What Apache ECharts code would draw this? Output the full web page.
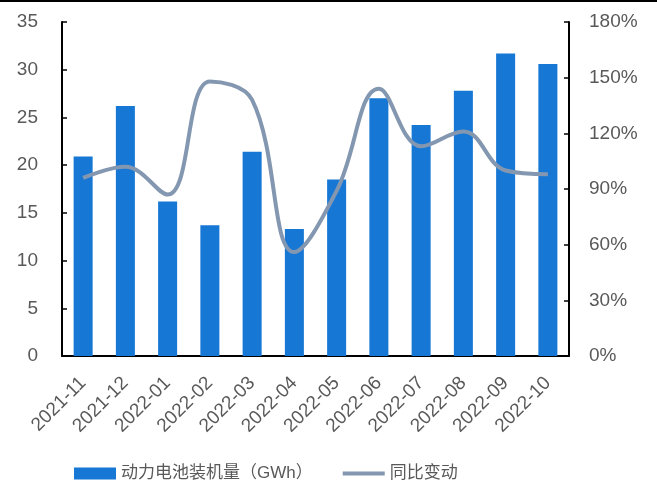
<!DOCTYPE html>
<html>
<head>
<meta charset="utf-8">
<script src="https://cdn.jsdelivr.net/npm/echarts@6/dist/echarts.min.js"></script>
<style>
  html, body { margin: 0; padding: 0; background: #fff; }
  #chart { width: 657px; height: 488px; }
</style>
</head>
<body>
<div id="chart"></div>
<script>
// 月份
const months = ["2021-11", "2021-12", "2022-01", "2022-02", "2022-03", "2022-04",
  "2022-05", "2022-06", "2022-07", "2022-08", "2022-09", "2022-10"];
// 动力电池装机量（GWh）
const installed = [20.9, 26.2, 16.2, 13.7, 21.4, 13.3, 18.5, 27.0, 24.2, 27.8, 31.7, 30.6];
// 同比变动（%）
const yoyChange = [96, 102, 87, 148, 138, 56, 89, 144, 113, 121, 100, 98];

const barName = "动力电池装机量（GWh）";
const lineName = "同比变动";
const textColor = "#595959";
const font = "'Liberation Sans', Arial, 'Noto Sans CJK SC', sans-serif";

const chart = echarts.init(document.getElementById("chart"));

const option = {
  animation: false,
  textStyle: { fontFamily: font },
  grid: { left: 62, right: 88, top: 22, bottom: 132 },
  legend: {
    left: 69,
    bottom: 1,
    itemWidth: 42,
    itemHeight: 12,
    itemGap: 30,
    textStyle: { color: textColor, fontSize: 17, fontFamily: font },
    data: [
      { name: barName, icon: "rect" },
      { name: lineName, icon: "path://M0,0 L42,0 L42,4 L0,4 Z" }
    ]
  },
  xAxis: {
    type: "category",
    data: months,
    axisLine: { lineStyle: { color: "#000", width: 2 } },
    axisTick: { inside: true, length: 5, lineStyle: { color: "#000", width: 1.5 } },
    axisLabel: { rotate: 45, color: textColor, fontSize: 19, margin: 24, interval: 0 }
  },
  yAxis: [
    {
      type: "value",
      min: 0,
      max: 35,
      interval: 5,
      splitLine: { show: false },
      axisLine: { show: true, lineStyle: { color: "#000", width: 2 } },
      axisTick: { show: true, inside: true, length: 5, lineStyle: { color: "#000", width: 1.5 } },
      axisLabel: { color: textColor, fontSize: 19, margin: 24 }
    },
    {
      type: "value",
      min: 0,
      max: 180,
      interval: 30,
      splitLine: { show: false },
      axisLine: { show: true, lineStyle: { color: "#000", width: 2 } },
      axisTick: { show: true, inside: true, length: 5, lineStyle: { color: "#000", width: 1.5 } },
      axisLabel: { color: textColor, fontSize: 19, margin: 20, formatter: "{value}%" }
    }
  ],
  series: [
    {
      name: barName,
      type: "bar",
      data: installed,
      barWidth: "45%",
      itemStyle: { color: "#1677d4" }
    },
    {
      name: lineName,
      type: "line",
      yAxisIndex: 1,
      data: yoyChange,
      smooth: 0.4,
      symbol: "none",
      lineStyle: { color: "#8497b0", width: 4 },
      itemStyle: { color: "#8497b0" }
    }
  ],
  graphic: [
    // 顶部黑线
    { type: "rect", left: 0, top: 0, shape: { width: 657, height: 2 }, style: { fill: "#000" } }
  ]
};

chart.setOption(option);
</script>
</body>
</html>
